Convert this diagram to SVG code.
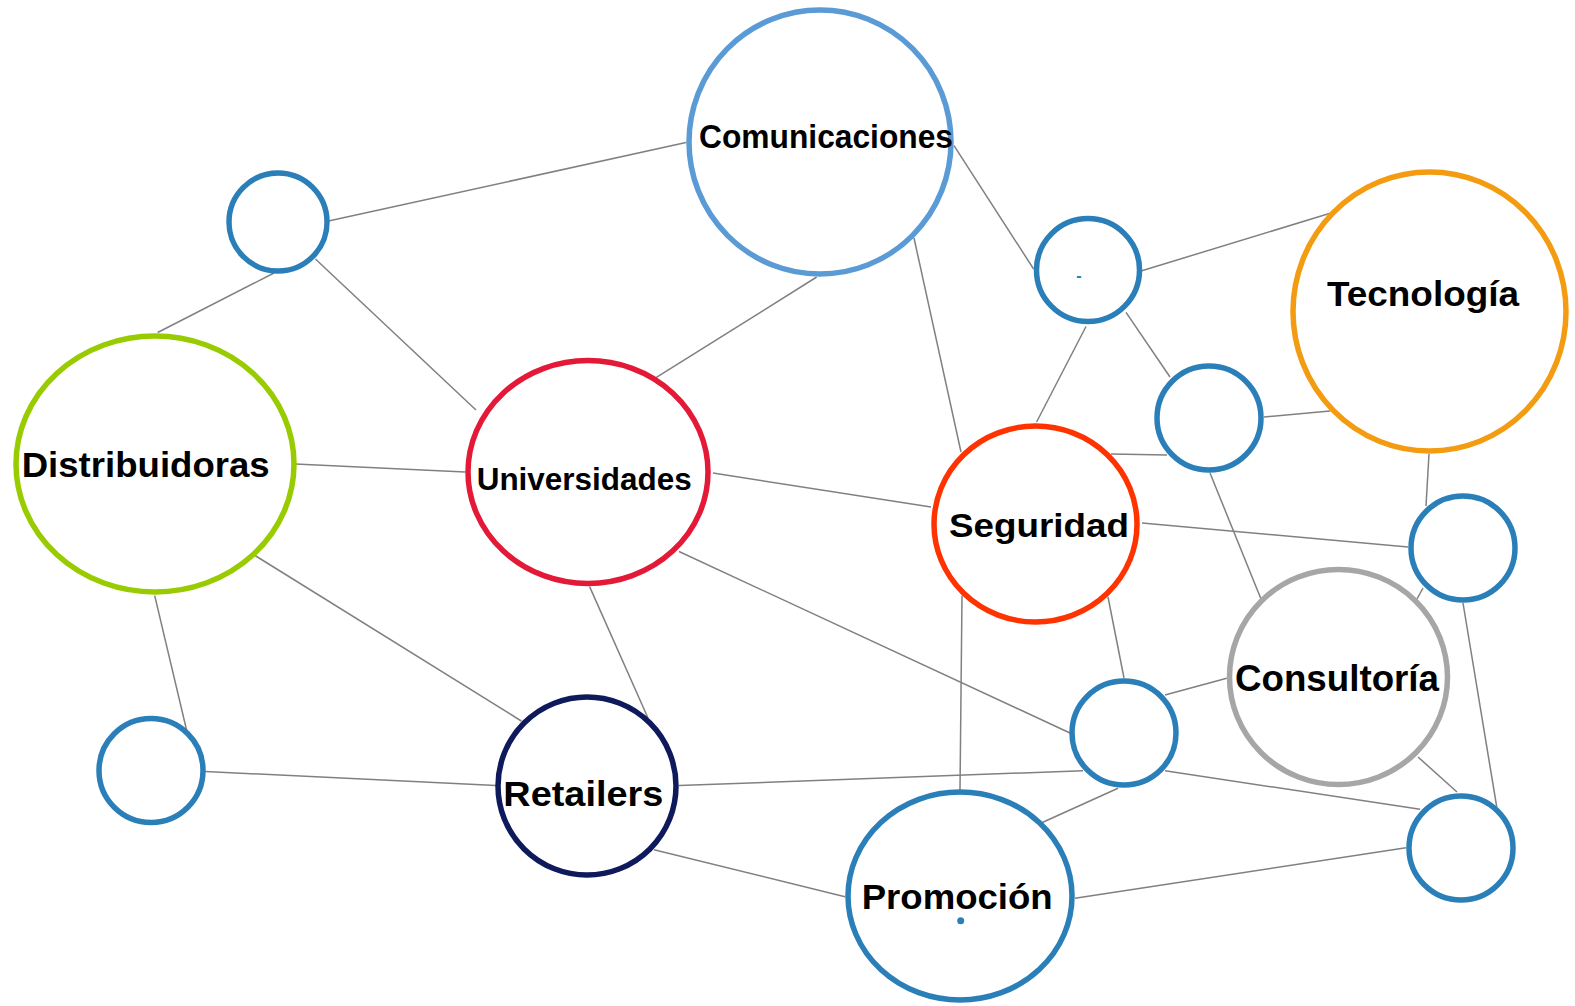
<svg xmlns="http://www.w3.org/2000/svg" width="1575" height="1006" viewBox="0 0 1575 1006">
<style>
.edge{stroke:#808080;stroke-width:1.5;fill:none}
.node{fill:#fff;stroke-width:5.5}
.small{stroke:#2b7fb8}
.lbl{font-family:"Liberation Sans",Arial,sans-serif;font-weight:bold;fill:#000}
</style>
<rect width="1575" height="1006" fill="#fff"/>
<g id="connectors">
<line class="edge" x1="328.5" y1="221" x2="686" y2="142.6"/>
<line class="edge" x1="274" y1="273" x2="157.7" y2="332.5"/>
<line class="edge" x1="315.4" y1="259" x2="476" y2="410"/>
<line class="edge" x1="656" y1="377.7" x2="816.7" y2="277"/>
<line class="edge" x1="954" y1="145.6" x2="1033.6" y2="269"/>
<line class="edge" x1="914" y1="238" x2="961" y2="452"/>
<line class="edge" x1="1141" y1="271" x2="1331" y2="213"/>
<line class="edge" x1="1086" y1="326.5" x2="1036.6" y2="422"/>
<line class="edge" x1="1126" y1="312.4" x2="1170" y2="377"/>
<line class="edge" x1="1264" y1="417" x2="1330" y2="411"/>
<line class="edge" x1="1111" y1="454" x2="1167" y2="455"/>
<line class="edge" x1="1210" y1="473" x2="1261" y2="599"/>
<line class="edge" x1="1429" y1="454" x2="1426" y2="506"/>
<line class="edge" x1="1142" y1="523" x2="1408" y2="547"/>
<line class="edge" x1="1423" y1="588" x2="1417" y2="599"/>
<line class="edge" x1="1463" y1="603" x2="1496.7" y2="806.7"/>
<line class="edge" x1="295.3" y1="464" x2="465" y2="472"/>
<line class="edge" x1="713" y1="473" x2="931" y2="507"/>
<line class="edge" x1="255" y1="555.5" x2="521.3" y2="721"/>
<line class="edge" x1="154.7" y1="595.7" x2="186.8" y2="731"/>
<line class="edge" x1="589.6" y1="586.6" x2="648" y2="718"/>
<line class="edge" x1="679" y1="551.5" x2="1070" y2="733"/>
<line class="edge" x1="1108" y1="597" x2="1124" y2="678"/>
<line class="edge" x1="962" y1="595.7" x2="960" y2="790"/>
<line class="edge" x1="1165" y1="695" x2="1226.7" y2="678.3"/>
<line class="edge" x1="205" y1="771.5" x2="496" y2="785.5"/>
<line class="edge" x1="679" y1="785.5" x2="1083" y2="770.7"/>
<line class="edge" x1="1165" y1="770.7" x2="1420" y2="809.3"/>
<line class="edge" x1="1041.7" y1="822.7" x2="1118" y2="788.3"/>
<line class="edge" x1="1418" y1="757" x2="1457" y2="792"/>
<line class="edge" x1="654" y1="849.8" x2="845" y2="896.7"/>
<line class="edge" x1="1075" y1="898.3" x2="1406" y2="847.7"/>
</g>
<g id="n-comunicaciones">
<ellipse class="node" cx="820" cy="142" rx="131" ry="132" stroke="#5b9bd5"/>
<text class="lbl" x="699" y="148" font-size="32.5" textLength="254" lengthAdjust="spacingAndGlyphs">Comunicaciones</text>
</g>
<g id="n-a">
<circle class="node small" cx="278" cy="222" r="49"/>
</g>
<g id="n-distribuidoras">
<ellipse class="node" cx="155" cy="464" rx="139" ry="128" stroke="#99cc00"/>
<text class="lbl" x="21.7" y="477" font-size="35.5" textLength="248" lengthAdjust="spacingAndGlyphs">Distribuidoras</text>
</g>
<g id="n-universidades">
<ellipse class="node" cx="588" cy="472" rx="120" ry="111.5" stroke="#e31937"/>
<text class="lbl" x="476.7" y="490" font-size="31" textLength="215" lengthAdjust="spacingAndGlyphs">Universidades</text>
</g>
<g id="n-seguridad">
<ellipse class="node" cx="1035.5" cy="524" rx="101.5" ry="98" stroke="#ff3300"/>
<text class="lbl" x="949" y="537" font-size="33" textLength="180" lengthAdjust="spacingAndGlyphs">Seguridad</text>
</g>
<g id="n-tecnologia">
<ellipse class="node" cx="1429.5" cy="311.5" rx="136.5" ry="139.5" stroke="#f39c12"/>
<text class="lbl" x="1327" y="305.7" font-size="35" textLength="192" lengthAdjust="spacingAndGlyphs">Tecnología</text>
</g>
<g id="n-consultoria">
<ellipse class="node" cx="1338.5" cy="677" rx="109" ry="107.5" stroke="#a6a6a6"/>
<text class="lbl" x="1235" y="691" font-size="36.5" textLength="204" lengthAdjust="spacingAndGlyphs">Consultoría</text>
</g>
<g id="n-retailers">
<circle class="node" cx="587" cy="786" r="89" stroke="#0e1a5c"/>
<text class="lbl" x="503.3" y="806" font-size="35" textLength="160" lengthAdjust="spacingAndGlyphs">Retailers</text>
</g>
<g id="n-promocion">
<ellipse class="node" cx="960" cy="896" rx="112" ry="104" stroke="#2b7fb8"/>
<text class="lbl" x="861.7" y="909.3" font-size="35" textLength="191" lengthAdjust="spacingAndGlyphs">Promoción</text>
<circle cx="960.7" cy="920.7" r="3.5" fill="#2b7fb8"/>
</g>
<g id="n-b">
<circle class="node small" cx="1088" cy="270" r="51.5"/>
<text x="1079" y="281" font-family="Liberation Sans,Arial,sans-serif" font-weight="bold" font-size="16" fill="#2b7fb8" text-anchor="middle">-</text>
</g>
<g id="n-c">
<circle class="node small" cx="1209" cy="418" r="52"/>
</g>
<g id="n-d">
<circle class="node small" cx="1463" cy="548" r="52"/>
</g>
<g id="n-e">
<circle class="node small" cx="1124" cy="733" r="52"/>
</g>
<g id="n-f">
<circle class="node small" cx="1461" cy="848" r="52"/>
</g>
<g id="n-g">
<circle class="node small" cx="151" cy="770.5" r="52"/>
</g>
</svg>
